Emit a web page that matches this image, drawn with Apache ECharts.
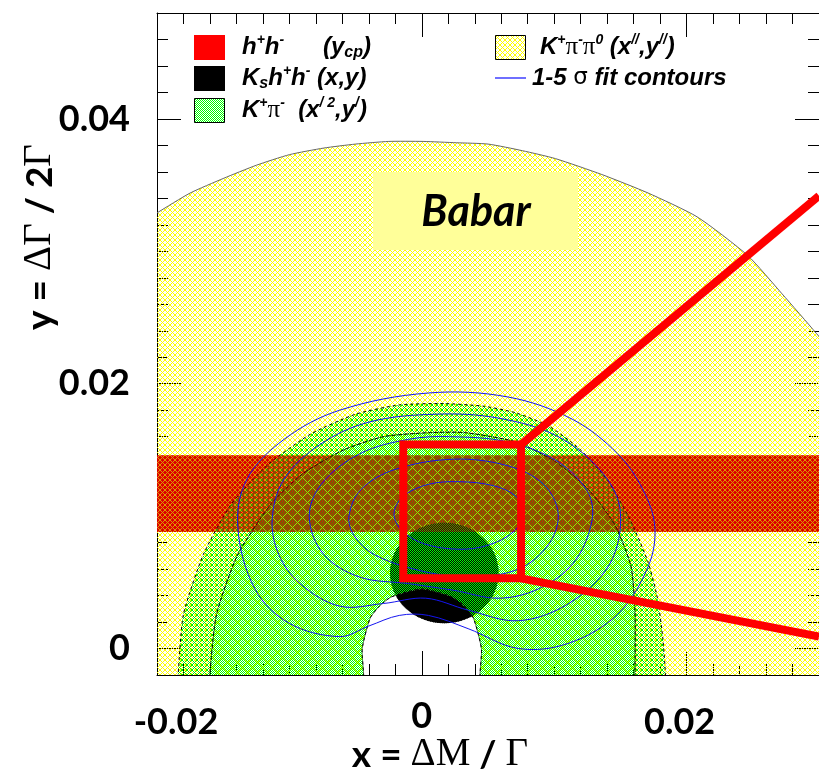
<!DOCTYPE html>
<html>
<head>
<meta charset="utf-8">
<script src="https://cdn.jsdelivr.net/npm/echarts@6/dist/echarts.min.js"></script>
<style>
html, body { margin: 0; padding: 0; background: #fff; }
#main { width: 819px; height: 770px; }
</style>
</head>
<body>
<div id="main"></div>
<script>
// axes
var xRange = [-0.02, 0.03];
var yRange = [-0.002, 0.048];
var xTickValues = [-0.02, 0, 0.02];
var xTickLabels = ['-0.02', '0', '0.02'];
var yTickValues = [0, 0.02, 0.04];
var yTickLabels = ['0', '0.02', '0.04'];

// h+h- (y_cp) band: lower / upper y
var hhBand = [0.0088, 0.0146];

// Ks h+h- (x,y) region: centre and half widths
var kshhCentre = [0.0017, 0.0057];
var kshhRadius = [0.0041, 0.0038];

// excluded region round the origin (right -> left over the top)
var holeEdge = [
  [0.0044, -0.0019], [0.0045, 0.0000], [0.0039, 0.0023], [0.0032, 0.0032],
  [0.0023, 0.0039], [0.0000, 0.0045], [-0.0023, 0.0039], [-0.0032, 0.0032],
  [-0.0039, 0.0023], [-0.0045, 0.0000], [-0.0044, -0.0019]
];

// K+pi-pi0 (x'',y'') allowed region, upper edge
var kpipi0Edge = [
  [-0.0220, 0.0316], [-0.0200, 0.0329], [-0.0175, 0.0344], [-0.0150, 0.0355],
  [-0.0125, 0.0365], [-0.0100, 0.0373], [-0.0074, 0.0378], [-0.0050, 0.0381],
  [-0.0025, 0.0383], [0.0001, 0.0383], [0.0026, 0.0382], [0.0050, 0.0381],
  [0.0076, 0.0376], [0.0101, 0.0370], [0.0136, 0.0358], [0.0171, 0.0344],
  [0.0208, 0.0326], [0.0246, 0.0297], [0.0272, 0.0268], [0.0298, 0.0238],
  [0.0317, 0.0214]
];

// K+pi- (x'^2,y') allowed regions, outer and inner edges (left -> right)
var kpiOuter = [
  [-0.0185, -0.0040], [-0.0184, -0.0019], [-0.0180, 0.0026], [-0.0165, 0.0071],
  [-0.0144, 0.0109], [-0.0116, 0.0139], [-0.0084, 0.0162], [-0.0050, 0.0177],
  [-0.0017, 0.0184], [0.0017, 0.0185], [0.0047, 0.0183], [0.0071, 0.0178],
  [0.0096, 0.0168], [0.0120, 0.0150], [0.0141, 0.0126], [0.0158, 0.0096],
  [0.0171, 0.0065], [0.0178, 0.0038], [0.0182, 0.0008], [0.0184, -0.0019],
  [0.0184, -0.0040]
];
var kpiInner = [
  [-0.0160, -0.0040], [-0.0160, -0.0019], [-0.0155, 0.0026], [-0.0139, 0.0071],
  [-0.0114, 0.0109], [-0.0090, 0.0132], [-0.0059, 0.0150], [-0.0029, 0.0160],
  [0.0005, 0.0163], [0.0033, 0.0163], [0.0071, 0.0156], [0.0101, 0.0141],
  [0.0126, 0.0120], [0.0146, 0.0093], [0.0158, 0.0062], [0.0161, 0.0028],
  [0.0161, -0.0019], [0.0161, -0.0040]
];

// 1-5 sigma fit contours
var sigma1 = [
  [-0.0021, 0.0102], [-0.0014, 0.0115], [0.0005, 0.0124], [0.0028, 0.0126],
  [0.0054, 0.0123], [0.0071, 0.0115], [0.0077, 0.0102], [0.0069, 0.0088],
  [0.0050, 0.0078], [0.0028, 0.0075], [0.0002, 0.0079], [-0.0015, 0.0089]
];
var sigma2 = [
  [-0.0055, 0.0100], [-0.0046, 0.0120], [-0.0021, 0.0135], [0.0024, 0.0143],
  [0.0065, 0.0138], [0.0092, 0.0124], [0.0103, 0.0102], [0.0096, 0.0079],
  [0.0073, 0.0060], [0.0035, 0.0054], [-0.0002, 0.0059], [-0.0036, 0.0071],
  [-0.0051, 0.0085]
];
var sigma3 = [
  [-0.0085, 0.0099], [-0.0076, 0.0124], [-0.0047, 0.0147], [-0.0010, 0.0158],
  [0.0021, 0.0160], [0.0065, 0.0156], [0.0103, 0.0141], [0.0126, 0.0117],
  [0.0128, 0.0094], [0.0114, 0.0064], [0.0088, 0.0045], [0.0058, 0.0038],
  [0.0024, 0.0044], [-0.0010, 0.0049], [-0.0047, 0.0054], [-0.0074, 0.0071]
];
var sigma4 = [
  [-0.0113, 0.0098], [-0.0104, 0.0128], [-0.0077, 0.0154], [-0.0040, 0.0171],
  [0.0011, 0.0177], [0.0058, 0.0174], [0.0103, 0.0160], [0.0137, 0.0132],
  [0.0150, 0.0103], [0.0142, 0.0064], [0.0111, 0.0034], [0.0073, 0.0021],
  [0.0035, 0.0029], [0.0003, 0.0038], [-0.0029, 0.0034], [-0.0062, 0.0032],
  [-0.0092, 0.0049], [-0.0108, 0.0071]
];
var sigma5 = [
  [-0.0139, 0.0092], [-0.0132, 0.0128], [-0.0104, 0.0158], [-0.0062, 0.0180],
  [0.0005, 0.0193], [0.0065, 0.0190], [0.0114, 0.0173], [0.0148, 0.0147],
  [0.0167, 0.0120], [0.0176, 0.0092], [0.0171, 0.0062], [0.0148, 0.0026],
  [0.0111, 0.0004], [0.0073, 0.0000], [0.0035, 0.0015], [0.0005, 0.0025],
  [-0.0017, 0.0025], [-0.0040, 0.0017], [-0.0062, 0.0009], [-0.0100, 0.0019],
  [-0.0126, 0.0045]
];
var fitContours = [sigma1, sigma2, sigma3, sigma4, sigma5];

// zoom box drawn over the plot and the two rays leaving it
var zoomBox = [[-0.0014, 0.0053], [0.0075, 0.0154]];
var zoomRays = [
  [[0.0075, 0.0154], [0.0300, 0.0342]],
  [[0.0075, 0.0053], [0.0300, 0.0009]]
];

var chart = echarts.init(document.getElementById('main'));

// ---- hatch fills ----
function hatch(color, size, shift) {
  var c = document.createElement('canvas');
  c.width = c.height = size;
  var ctx = c.getContext('2d');
  ctx.fillStyle = color;
  for (var i = 0; i < size; i++) {
    ctx.fillRect((i + shift) % size, i, 1, 1);
    ctx.fillRect((size - 1 - i + shift) % size, i, 1, 1);
  }
  return { image: c, repeat: 'repeat' };
}
function checker(color, phase) {
  var c = document.createElement('canvas');
  c.width = c.height = 2;
  var ctx = c.getContext('2d');
  ctx.fillStyle = color;
  ctx.fillRect(phase, 0, 1, 1);
  ctx.fillRect(1 - phase, 1, 1, 1);
  return { image: c, repeat: 'repeat' };
}
var yellowFill = hatch('#ffff00', 5, 0);
var greenFill = hatch('#00ee00', 5, 2);
var greenDense = checker('#00ff00', 0);
var blackDense = checker('#000000', 1);

function notched(edge) {
  return edge.concat([[0.0044, -0.0040]], holeEdge, [[-0.0044, -0.0040]]);
}
var kpipi0Shape = kpipi0Edge.concat([[0.0330, -0.0040]], notched([]), [[-0.0230, -0.0040]]);
// outer ring only: outer edge out, inner edge back
var kpiRing = kpiOuter.concat(kpiInner.slice().reverse());

function polygonSeries(points, style, smooth) {
  return {
    type: 'custom',
    coordinateSystem: 'cartesian2d',
    clip: true,
    silent: true,
    data: points,
    renderItem: function (params, api) {
      if (params.dataIndex !== 0) return null;
      var pts = points.map(function (p) { return api.coord(p); });
      return { type: 'polygon', shape: { points: pts, smooth: smooth }, style: style };
    }
  };
}
function discSeries(fill) {
  return {
    type: 'custom', coordinateSystem: 'cartesian2d', clip: true, silent: true,
    data: [kshhCentre],
    renderItem: function (params, api) {
      var c = api.coord(kshhCentre);
      var r = api.size(kshhRadius);
      return { type: 'ellipse', shape: { cx: c[0], cy: c[1], rx: r[0], ry: r[1] }, style: { fill: fill } };
    }
  };
}
function bandSeries(style) {
  return {
    type: 'custom', coordinateSystem: 'cartesian2d', clip: true, silent: true,
    data: [[xRange[0], hhBand[0]]],
    renderItem: function (params, api) {
      var a = api.coord([xRange[0], hhBand[1]]);
      var b = api.coord([xRange[1], hhBand[0]]);
      return { type: 'rect', shape: { x: a[0], y: a[1], width: b[0] - a[0], height: b[1] - a[1] }, style: style };
    }
  };
}

var series = [];
// h+h- band, solid underneath
series.push(bandSeries({ fill: '#ff0000' }));
// Ks h+h- disc: solid underneath, dotted over the green
series.push(discSeries('#000'));
series.push(polygonSeries(kpipi0Shape, { fill: yellowFill, stroke: '#666', lineWidth: 1 }, 0.2));
series.push(polygonSeries(kpiRing, { fill: greenFill, stroke: '#000', lineWidth: 1, lineDash: [3, 3] }, 0.2));
series.push(polygonSeries(notched(kpiInner), { fill: greenDense, stroke: '#000', lineWidth: 1, lineDash: [3, 3] }, 0.2));
series.push(discSeries(blackDense));
// h+h- band, tint laid over the other regions
series.push(bandSeries({ fill: '#aa0000', opacity: 0.4 }));
fitContours.forEach(function (c) {
  series.push(polygonSeries(c, { fill: 'none', stroke: '#1515f0', lineWidth: 1 }, 0.35));
});
// zoom box and rays
series.push({
  type: 'custom', coordinateSystem: 'cartesian2d', clip: true, silent: true,
  data: [zoomBox[0]],
  renderItem: function (params, api) {
    var a = api.coord([zoomBox[0][0], zoomBox[1][1]]);
    var b = api.coord([zoomBox[1][0], zoomBox[0][1]]);
    var kids = [{ type: 'rect', shape: { x: a[0], y: a[1], width: b[0] - a[0], height: b[1] - a[1] },
      style: { fill: 'none', stroke: '#ff0000', lineWidth: 8 } }];
    zoomRays.forEach(function (r) {
      var p = api.coord(r[0]), q = api.coord(r[1]);
      kids.push({ type: 'line', shape: { x1: p[0], y1: p[1], x2: q[0], y2: q[1] },
        style: { stroke: '#ff0000', lineWidth: 8 } });
    });
    return { type: 'group', children: kids };
  }
});

function tickIndex(values, v) {
  for (var i = 0; i < values.length; i++) {
    if (Math.abs(values[i] - v) < 1e-9) return i;
  }
  return -1;
}

var labelFont = { fontFamily: 'Lato', fontSize: 36, fontWeight: 'bold', color: '#000' };
var lineBlack = { color: '#000', width: 1 };

function minorAxis(pos, range) {
  return {
    type: 'value', position: pos, min: range[0], max: range[1], interval: 0.002,
    axisLine: { show: true, onZero: false, lineStyle: lineBlack },
    axisTick: { inside: true, length: 11, lineStyle: lineBlack },
    axisLabel: { show: false }, splitLine: { show: false }
  };
}
function majorAxis(pos, range, values, label) {
  return {
    type: 'value', position: pos, min: range[0], max: range[1],
    axisLine: { show: false, onZero: false },
    axisTick: { inside: true, length: 24, customValues: values, lineStyle: lineBlack },
    axisLabel: label || { show: false },
    splitLine: { show: false }
  };
}

var xLabel = Object.assign({
  show: true, customValues: xTickValues, margin: 23,
  formatter: function (v) {
    var i = tickIndex(xTickValues, v);
    return i < 0 ? '' : '{l' + i + '|' + xTickLabels[i] + '}';
  },
  rich: {
    l0: { fontFamily: 'Lato', fontSize: 36, fontWeight: 'bold', padding: [6, 0, 0, 38] },
    l1: { fontFamily: 'Lato', fontSize: 36, fontWeight: 'bold' },
    l2: { fontFamily: 'Lato', fontSize: 36, fontWeight: 'bold', padding: [6, 14, 0, 0] }
  }
}, labelFont);
var yLabel = Object.assign({
  show: true, customValues: yTickValues, margin: 27,
  formatter: function (v) {
    var i = tickIndex(yTickValues, v);
    return i < 0 ? '' : yTickLabels[i];
  }
}, labelFont);

// legend / annotation text styles
var lg = { fontFamily: 'Liberation Sans', fontSize: 24, fontWeight: 'bold', fontStyle: 'italic', lineHeight: 28, fill: '#000' };
var legendRich = {
  b: lg,
  sup: { fontFamily: 'Liberation Sans', fontSize: 14, fontWeight: 'bold', fontStyle: 'italic', verticalAlign: 'top', lineHeight: 14, fill: '#000' },
  sub: { fontFamily: 'Liberation Sans', fontSize: 16, fontWeight: 'bold', fontStyle: 'italic', verticalAlign: 'bottom', lineHeight: 14, fill: '#000' },
  g: { fontFamily: 'Liberation Serif', fontSize: 25, lineHeight: 28, fill: '#000' },
  s: { fontFamily: 'DejaVu Sans', fontSize: 23, lineHeight: 28, fill: '#000' }
};
function legendText(x, y, text) {
  return { type: 'text', z: 100, style: { x: x, y: y, text: text, rich: legendRich, verticalAlign: 'middle', align: 'left' } };
}
var titleRich = {
  s: { fontFamily: 'Lato', fontSize: 37, fontWeight: 'bold', fill: '#000' },
  g: { fontFamily: 'Liberation Serif', fontSize: 39, fill: '#000' }
};

var graphics = [
  // legend
  { type: 'rect', z: 100, shape: { x: 194, y: 35, width: 31, height: 25 }, style: { fill: '#ff0000' } },
  { type: 'rect', z: 100, shape: { x: 194, y: 66, width: 31, height: 25 }, style: { fill: '#000' } },
  { type: 'rect', z: 100, shape: { x: 194.5, y: 98.5, width: 30, height: 24 }, style: { fill: greenDense, stroke: '#000', lineWidth: 1 } },
  { type: 'rect', z: 100, shape: { x: 495.5, y: 35.5, width: 30, height: 24 }, style: { fill: yellowFill, stroke: '#000', lineWidth: 1 } },
  { type: 'line', z: 100, shape: { x1: 495, y1: 78, x2: 526, y2: 78 }, style: { stroke: '#6f6fff', lineWidth: 2 } },
  legendText(242, 47, '{b|h}{sup|+}{b|h}{sup|-}'),
  legendText(323, 47, '{b|(y}{sub|cp}{b|)}'),
  legendText(242, 78, '{b|K}{sub|s}{b|h}{sup|+}{b|h}{sup|-}{b| (x,y)}'),
  legendText(242, 110, '{b|K}{sup|+}{g|π}{sup|-}{b|  (x}{sup|/ 2}{b|,y}{sup|/}{b|)}'),
  legendText(540, 47, '{b|K}{sup|+}{g|π}{sup|-}{g|π}{sup|0}{b| (x}{sup|//}{b|,y}{sup|//}{b|)}'),
  legendText(532, 78, '{b|1-5 }{s|σ}{b| fit contours}'),
  // experiment tag
  { type: 'rect', z: 100, shape: { x: 373, y: 172, width: 205, height: 78 }, style: { fill: '#ffff99' } },
  { type: 'text', z: 101, style: { x: 476, y: 212, text: 'Babar', fontFamily: 'Lato', fontSize: 43,
      fontWeight: 'bold', fontStyle: 'italic', fill: '#000', align: 'center', verticalAlign: 'middle' } },
  // axis titles
  { type: 'text', z: 100, style: { x: 440, y: 755, text: '{s|x = }{g|ΔM}{s| / }{g|Γ}', rich: titleRich,
      align: 'center', verticalAlign: 'middle' } },
  { type: 'text', z: 100, x: 40, y: 237, rotation: Math.PI / 2,
    style: { x: 0, y: 0, text: '{s|y = }{g|ΔΓ}{s| / 2}{g|Γ}', rich: titleRich, align: 'center', verticalAlign: 'middle' } }
];

chart.setOption({
  animation: false,
  backgroundColor: '#fff',
  grid: { left: 157, right: -3, top: 13, bottom: 95 },
  xAxis: [
    minorAxis('bottom', xRange),
    majorAxis('bottom', xRange, xTickValues, xLabel),
    minorAxis('top', xRange),
    majorAxis('top', xRange, xTickValues)
  ],
  yAxis: [
    minorAxis('left', yRange),
    majorAxis('left', yRange, yTickValues, yLabel),
    minorAxis('right', yRange),
    majorAxis('right', yRange, yTickValues)
  ],
  series: series,
  graphic: { elements: graphics }
});
</script>
</body>
</html>
